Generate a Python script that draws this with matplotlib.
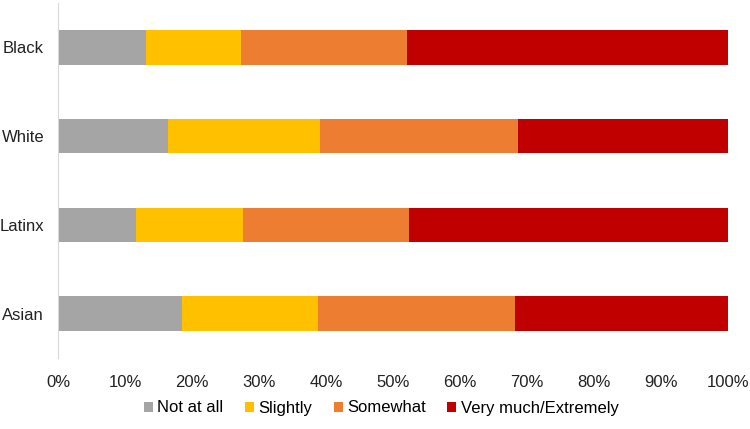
import matplotlib.pyplot as plt
from matplotlib.ticker import PercentFormatter

plt.rcParams['font.family'] = ['Liberation Sans', 'DejaVu Sans']

groups = ['Asian', 'Latinx', 'White', 'Black']
not_at_all = [18.5, 11.7, 16.4, 13.1]
slightly = [20.3, 15.9, 22.7, 14.2]
somewhat = [29.4, 24.8, 29.6, 24.8]
very_much = [31.8, 47.6, 31.3, 47.9]

series = [
    ('Not at all', not_at_all, '#A5A5A5'),
    ('Slightly', slightly, '#FFC000'),
    ('Somewhat', somewhat, '#ED7D31'),
    ('Very much/Extremely', very_much, '#C00000'),
]

fig = plt.figure(figsize=(7.5, 4.29), dpi=100)
ax = fig.add_axes([0.0773, 0.1655, 0.8934, 0.8275])

left = [0.0] * len(groups)
for label, vals, color in series:
    ax.barh(groups, vals, left=left, height=0.39, color=color, label=label)
    left = [l + v for l, v in zip(left, vals)]

ax.set_xlim(0, 100)
ax.set_ylim(-0.5, 3.5)
ax.set_xticks(range(0, 101, 10))
ax.xaxis.set_major_formatter(PercentFormatter(decimals=0))
ax.tick_params(axis='both', length=0, labelsize=12, colors='#222222')
ax.tick_params(axis='x', pad=12)
ax.tick_params(axis='y', pad=10)

for s in ['top', 'right', 'bottom']:
    ax.spines[s].set_visible(False)
ax.spines['left'].set_color('#D9D9D9')

fig.legend(loc='center', bbox_to_anchor=(381 / 750, 1 - 408 / 429), ncol=4,
           frameon=False, fontsize=12, handlelength=0.55, handleheight=0.55,
           handletextpad=0.25, columnspacing=1.3)

fig.savefig('out.png', dpi=100)
